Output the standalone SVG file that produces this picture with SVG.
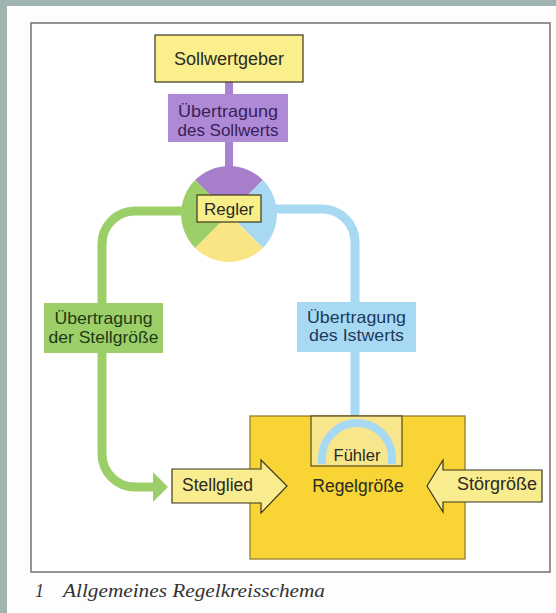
<svg xmlns="http://www.w3.org/2000/svg" width="556" height="613" viewBox="0 0 556 613">
<defs>
<style>
.t{font-family:"Liberation Sans",Arial,sans-serif;font-size:17.5px;text-anchor:middle;fill:#2a2a22}
.l2{font-size:16.5px}
.box{stroke:#3a3520;stroke-width:1.2}
.lab{stroke:none}
.conn{fill:none;stroke-linecap:butt;stroke-linejoin:round}
.cap{font-family:"Liberation Serif","Times New Roman",serif;font-style:italic;font-size:18px;fill:#333}
</style>
</defs>
<rect x="0" y="0" width="556" height="613" fill="#9fb4b1"/>
<rect x="7" y="6" width="549" height="607" fill="#fdfdfd"/>
<rect x="31" y="23" width="519" height="549" fill="#ffffff" stroke="#7a7a7a" stroke-width="1.6"/>

<g id="connectors">
<path class="conn" d="M229 82 V170" stroke="#a983cf" stroke-width="8"/>
<path class="conn" d="M183 211 H135 A33 33 0 0 0 102 244 V454 A33 33 0 0 0 135 487 H156" stroke="#9dcf69" stroke-width="9"/>
<polygon points="153,472 168,487 153,502" fill="#9dcf69"/>
<path class="conn" d="M274 209 H322 A33 33 0 0 1 355 242 V424" stroke="#a8d9f3" stroke-width="9"/>
</g>

<g id="sollwertgeber">
<rect class="box" x="155" y="35" width="148" height="47" fill="#faef8c"/>
<text class="t" x="229" y="65" style="font-size:18px">Sollwertgeber</text>
</g>

<g id="label-sollwert">
<rect class="lab" x="168" y="94" width="120" height="48" fill="#ae8ad6"/>
<text class="t l2" x="228" y="117" style="fill:#3a2058" textLength="100" lengthAdjust="spacingAndGlyphs">Übertragung</text>
<text class="t l2" x="228" y="135.5" style="fill:#3a2058" textLength="101" lengthAdjust="spacingAndGlyphs">des Sollwerts</text>
</g>

<g id="regler">
<path d="M229 214 L195.1 180.1 A48 48 0 0 1 262.9 180.1 Z" fill="#a67ec9"/>
<path d="M229 214 L262.9 180.1 A48 48 0 0 1 262.9 247.9 Z" fill="#a8d9f3"/>
<path d="M229 214 L262.9 247.9 A48 48 0 0 1 195.1 247.9 Z" fill="#f9e584"/>
<path d="M229 214 L195.1 247.9 A48 48 0 0 1 195.1 180.1 Z" fill="#9dcf69"/>
<rect class="box" x="197" y="195" width="64" height="27" fill="#f9ef8a"/>
<text class="t" x="229" y="214.5" style="font-size:17px">Regler</text>
</g>

<g id="label-stellgroesse">
<rect class="lab" x="44" y="303" width="119" height="50" fill="#9dcf69"/>
<text class="t l2" x="103.5" y="324" style="fill:#1e3b16" textLength="98" lengthAdjust="spacingAndGlyphs">Übertragung</text>
<text class="t l2" x="103.5" y="342.5" style="fill:#1e3b16" textLength="110" lengthAdjust="spacingAndGlyphs">der Stellgröße</text>
</g>

<g id="label-istwert">
<rect class="lab" x="297" y="302" width="119" height="50" fill="#a8d9f3"/>
<text class="t l2" x="356.5" y="322.5" style="fill:#1c3a5e" textLength="99" lengthAdjust="spacingAndGlyphs">Übertragung</text>
<text class="t l2" x="356.5" y="341" style="fill:#1c3a5e" textLength="95" lengthAdjust="spacingAndGlyphs">des Istwerts</text>
</g>

<g id="regelstrecke">
<rect x="250" y="416" width="215" height="143" fill="#f8d534" stroke="#8a7526" stroke-width="1.2"/>
<text class="t" x="358" y="492">Regelgröße</text>
</g>

<g id="fuehler">
<rect x="311" y="416" width="91" height="50" fill="#f8e68c" stroke="#5a4c1c" stroke-width="1.2"/>
<path class="conn" d="M322 464 V458 A35 35 0 0 1 392 458 V464" stroke="#a8d9f3" stroke-width="8"/>
<text class="t" x="357" y="461" style="font-size:16.5px">Fühler</text>
</g>

<g id="stellglied">
<polygon class="box" points="172,469 261,469 261,460 287,486 261,513 261,503 172,503" fill="#f9ec8f"/>
<text class="t" x="217.5" y="491">Stellglied</text>
</g>

<g id="stoergroesse">
<polygon class="box" points="542,470 443,470 443,460 427,486 443,512 443,502 542,502" fill="#f9ec8f"/>
<text class="t" x="497" y="490" style="font-size:18px">Störgröße</text>
</g>

<g id="caption">
<text class="cap" x="35" y="597">1</text>
<text class="cap" x="63" y="597" textLength="262" lengthAdjust="spacingAndGlyphs">Allgemeines Regelkreisschema</text>
</g>
</svg>
